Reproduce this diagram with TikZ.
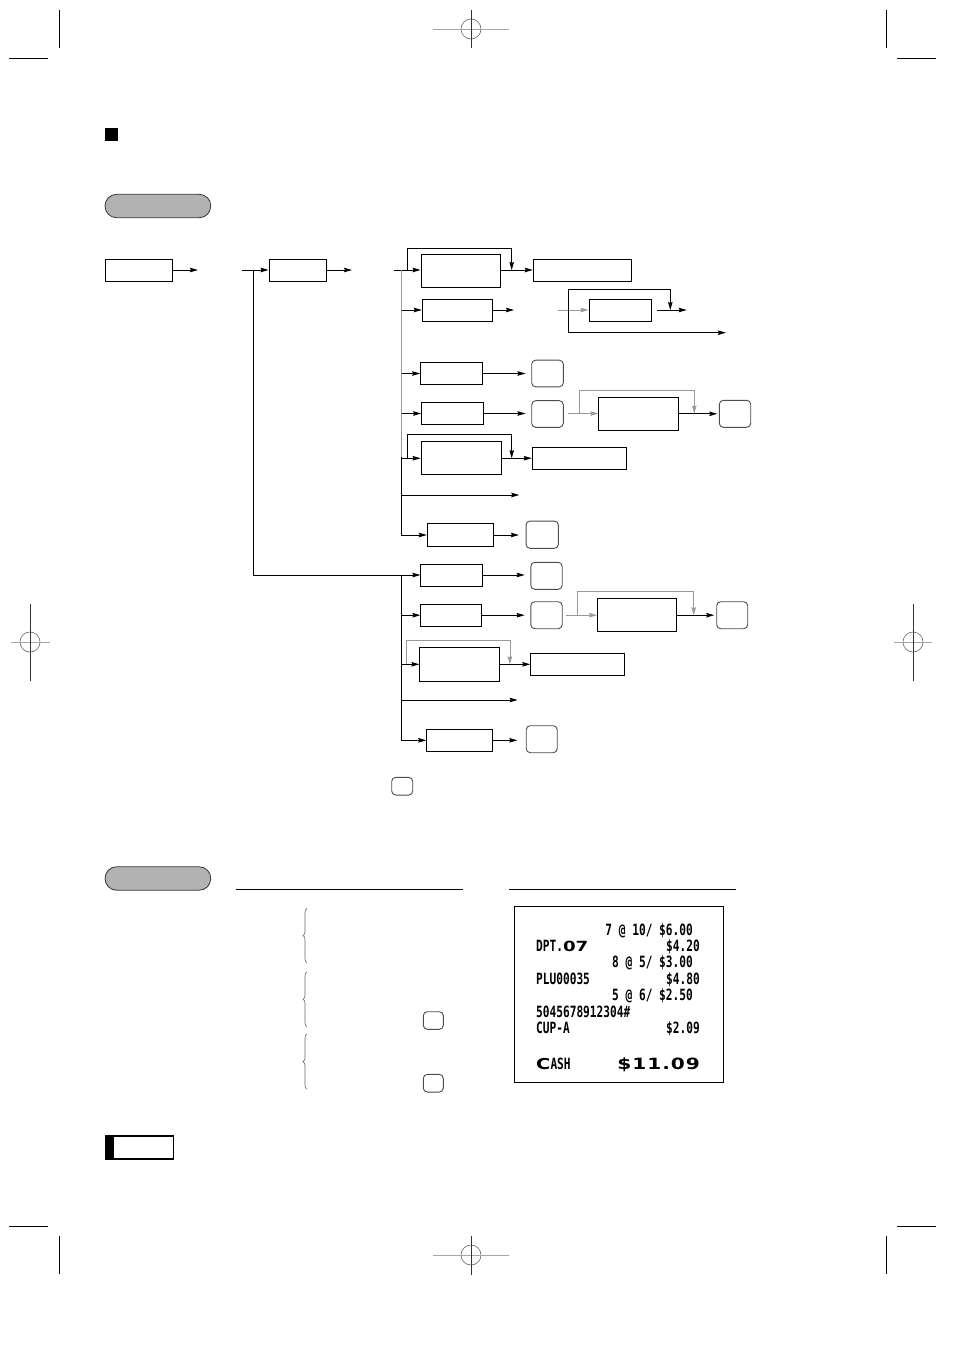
\documentclass[tikz,border=0pt]{standalone}
\usepackage{fontspec}
\newfontfamily\rcptfont[FakeStretch=0.72]{DejaVu Sans Mono}
\newfontfamily\rcptwide[FakeStretch=1.3]{DejaVu Sans}
\usetikzlibrary{arrows.meta,calc,positioning,decorations.pathreplacing}

\begin{document}
\begin{tikzpicture}[x=1pt,y=-1pt,
  opbox/.style 2 args={draw,line width=1pt,minimum width=#1pt,minimum height=#2pt,inner sep=0pt},
  keycap/.style 2 args={draw=black!70,line width=0.9pt,rounded corners=4pt,minimum width=#1pt,minimum height=#2pt,inner sep=0pt},
  pill/.style={draw=black!80,line width=0.8pt,fill=gray!60,rounded corners=11.5pt,minimum width=105.7pt,minimum height=23.4pt,inner sep=0pt},
  arr/.style={line width=0.9pt,-{Stealth[length=8pt,width=4.5pt,inset=1pt]}},
  bypass/.style={arr,line width=0.7pt},
  feed/.style={line width=1pt,draw=gray!80},
  cropline/.style={line width=0.7pt},
  rline/.style={font=\rcptfont\bfseries\fontsize{15.5}{15.5}\selectfont,inner sep=0pt}]
  \useasboundingbox (0,0) rectangle (954,1350);
  % crop and registration marks
  \foreach \x/\y in {59/10,886/10,59/1236,886/1236} {\draw[cropline] (\x,\y) -- ++(0,38);}
  \foreach \x/\y in {9/58,897/58,9/1226,897/1226} {\draw[cropline] (\x,\y) -- ++(39,0);}
  \foreach \x/\y/\h/\v in {471/29/38/19,471/1255/38/19.5,30/642/19.5/38.5,913/642/19/38.5} {
    \draw[gray!80!black,line width=0.6pt] (\x,\y) circle (10pt);
    \draw[gray!70,line width=0.8pt] (\x-\h,\y) -- (\x+\h,\y);
    \draw[black!80,line width=0.6pt] (\x,\y-\v) -- (\x,\y+\v);
  }
  \fill (105,128) rectangle (118,141);
  \node[pill] (mode1) at (157.9,206) {};
  % flow chart
  \node[opbox={67.7}{22}] (sel1) at (138.9,270) {};
  \node[opbox={57.7}{22}] (sel2) at (297.9,270) {};
  \coordinate (sel1out) at (198,270);
  \coordinate (sel2in) at (241.7,270);
  \coordinate (sel2out) at (352,270);
  \draw[arr] (sel1) -- (sel1out);
  \draw[arr] (sel2in) -- (sel2);
  \draw[arr] (sel2) -- (sel2out);
  \node[opbox={79.3}{33}] (a1) at (460.7,271) {};
  \node[opbox={98}{22}] (a2) at (582.3,270) {};
  \node[opbox={70}{22}] (b1) at (457.3,310) {};
  \node[opbox={62.3}{22}] (c1) at (620.2,310) {};
  \node[opbox={61.6}{22.7}] (d1) at (451.5,373.5) {};
  \node[keycap={31.6}{26.7}] (k1) at (547.5,373.5) {};
  \node[opbox={62}{22.7}] (d2) at (452.7,413.5) {};
  \node[keycap={31.6}{26.7}] (k2) at (547.5,414) {};
  \node[opbox={79.7}{33}] (e1) at (638.8,413.8) {};
  \node[keycap={31.4}{27}] (k3) at (735,413.8) {};
  \node[opbox={80.3}{33}] (f1) at (461.2,458.2) {};
  \node[opbox={94.4}{22}] (f2) at (579.5,458.2) {};
  \node[opbox={66}{22.7}] (g1) at (460.3,535) {};
  \node[keycap={32.3}{27.3}] (k4) at (542.2,534.7) {};
  \coordinate (trk1) at (401.7,270);
  \coordinate (b1out) at (514,310);
  \coordinate (g6out) at (519.3,495);
  \draw[arr] (394,270) -- (a1.west |- trk1);
  \draw[feed] (trk1) -- (401.7,457);
  \draw[arr] (401.7,457) |- (g1);
  \foreach \n in {b1,d1,d2,f1} {\draw[arr] (trk1 |- \n) -- (\n);}
  \draw[arr] (trk1 |- g6out) -- (g6out);
  \draw[bypass] (407.3,270) |- (511.7,248.3) -- (511.7,270);
  \draw[arr] (a1.east |- a2) -- (a2);
  \draw[arr] (b1) -- (b1out);
  \coordinate (c1in) at (557.7,310);
  \coordinate (c1out) at (657,310);
  \coordinate (c1end) at (686.7,310);
  \coordinate (c1skip) at (726,332.7);
  \draw[feed,arr] (c1in) -- (c1);
  \draw[arr] (c1out) -- (c1end);
  \draw[bypass] (568.3,332.7) -- (568.3,289.3) -| (670.3,310);
  \draw[arr] (568.3,332.7) -- (c1skip);
  \draw[arr,shorten >=5.7pt] (d1) -- (k1);
  \draw[arr,shorten >=5.7pt] (d2.east) -- (k2.west |- d2);
  \coordinate (e1in) at (568.3,413.5);
  \draw[feed,arr] (e1in) -- (e1.west |- e1in);
  \draw[feed,bypass] (579,413.5) |- (694.3,390) -- (694.3,413.5);
  \draw[arr,shorten >=1.6pt] (e1) -- (k3.west |- e1);
  \draw[bypass] (407.3,458.2) |- (511.7,434.3) -- (511.7,458.2);
  \draw[arr] (f1) -- (f2);
  \draw[arr,shorten >=6.7pt] (g1) -- (k4.west |- g1);
  % second group
  \node[opbox={61.7}{22}] (h1) at (451.8,575) {};
  \node[keycap={31.4}{27}] (k5) at (546.5,575.8) {};
  \node[opbox={61}{22.3}] (h2) at (451.4,615.2) {};
  \node[keycap={31.4}{27}] (k6) at (546.5,615.2) {};
  \node[opbox={78.6}{33}] (i1) at (636.9,615.2) {};
  \node[keycap={31}{27}] (k7) at (732.2,615.2) {};
  \node[opbox={80}{33.7}] (j1) at (459.9,664.3) {};
  \node[opbox={93.8}{21.7}] (j2) at (577.7,664.3) {};
  \node[opbox={66}{22}] (m1) at (459.7,740.3) {};
  \node[keycap={31}{27}] (k8) at (541.7,739.2) {};
  \coordinate (trk2) at (401,575);
  \coordinate (j4out) at (517.7,700);
  \draw[arr] (253.3,270) |- (h1);
  \draw[arr] (trk2) |- (m1);
  \foreach \n in {h2,j1} {\draw[arr] (trk2 |- \n) -- (\n);}
  \draw[arr] (trk2 |- j4out) -- (j4out);
  \draw[arr,shorten >=5.7pt] (h1) -- (k5.west |- h1);
  \draw[arr,shorten >=5.7pt] (h2) -- (k6);
  \coordinate (i1in) at (566.3,615.2);
  \draw[feed,arr] (i1in) -- (i1);
  \draw[feed,bypass] (577.4,615.2) |- (693.7,591.3) -- (693.7,615.2);
  \draw[arr,shorten >=2pt] (i1) -- (k7);
  \draw[feed,bypass] (406,664.3) |- (509.9,640) -- (509.9,664.3);
  \draw[arr] (j1) -- (j2);
  \draw[arr,shorten >=8.4pt] (m1) -- (k8.west |- m1);
  \node[keycap={21}{17.7}] (knote) at (402.2,786.2) {};
  % example part
  \node[pill] (mode2) at (157.9,878.5) {};
  \draw[line width=1.1pt] (236,889.3) -- (462.7,889.3);
  \draw[line width=1.1pt] (509,889.3) -- (736,889.3);
  \foreach \t/\b in {908.3/962.7,971.7/1026.7,1034/1089.3}
    {\draw[gray!80!black,line width=0.6pt,decorate,decoration={brace,amplitude=4pt}] (307,\b) -- (307,\t);}
  \node[keycap={20}{17.6}] (kex1) at (433.3,1020.5) {};
  \node[keycap={20}{17.7}] (kex2) at (433.3,1083.2) {};
  % receipt
  \node[draw,line width=1pt,minimum width=209pt,minimum height=176pt,inner sep=0pt] (rcpt) at (618.5,994) {};
  \node[rline,anchor=base east] (r1) at (693,935) {7 @ 10/ \$6.00};
  \node[rline,anchor=base west] (r2l) at (536,951) {DPT.{\rcptwide\bfseries\fontsize{14}{14}\selectfont 07}};
  \node[rline,anchor=base east] (r2r) at (700,951) {\$4.20};
  \node[rline,anchor=base east] (r3) at (693,967.5) {8 @ 5/ \$3.00};
  \node[rline,anchor=base west] (r4l) at (536,984) {PLU00035};
  \node[rline,anchor=base east] (r4r) at (700,984) {\$4.80};
  \node[rline,anchor=base east] (r5) at (693,1000.5) {5 @ 6/ \$2.50};
  \node[rline,anchor=base west] (r6) at (536,1017) {5045678912304\#};
  \node[rline,anchor=base west] (r7l) at (536,1033.5) {CUP-A};
  \node[rline,anchor=base east] (r7r) at (700,1033.5) {\$2.09};
  \node[rline,anchor=base west] (r8l) at (536,1069) {{\rcptwide\bfseries\fontsize{15}{15}\selectfont C}ASH};
  \node[rline,anchor=base east] (r8r) at (700,1069) {\rcptwide\bfseries\fontsize{15.5}{15.5}\selectfont\addfontfeature{LetterSpace=6}\$11.09};
  % page tab
  \node[draw,line width=1.1pt,minimum width=68.3pt,minimum height=23pt,inner sep=0pt] (pgtab) at (139.2,1147.5) {};
  \fill (pgtab.north west) rectangle ($(pgtab.south west)+(9.3,0)$);
\end{tikzpicture}
\end{document}
